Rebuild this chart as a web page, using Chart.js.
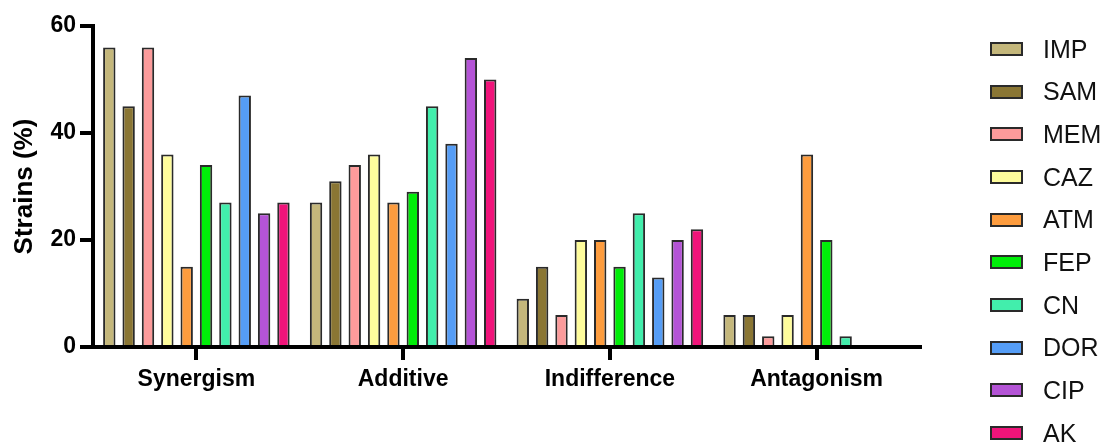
<!DOCTYPE html>
<html>
<head>
<meta charset="utf-8">
<script src="https://cdn.jsdelivr.net/npm/chart.js@4"></script>
<style>
    html, body { margin: 0; padding: 0; background: #fff; }
    #wrap { position: relative; width: 1110px; height: 444px; }
    #grafica { position: absolute; left: 0; top: 0; }
    .leyenda-item { position: absolute; left: 990px; height: 28px; display: flex; align-items: center;
        font-family: "Liberation Sans", Arial, sans-serif; font-size: 25px; color: #111; }
    .leyenda-caja { width: 29px; height: 10px; border: 2px solid #2a2a2a; margin-right: 20px; }
</style>
</head>
<body>
<div id="wrap">
    <canvas id="grafica" width="1110" height="444"></canvas>
    <div id="leyenda"></div>
</div>
<script>
const categorias = ["Synergism", "Additive", "Indifference", "Antagonism"];
const antibioticos = ["IMP", "SAM", "MEM", "CAZ", "ATM", "FEP", "CN", "DOR", "CIP", "AK"];
const colores = ["#c4b77b", "#8a7634", "#fc9b9b", "#fefc9c", "#fd9c3e", "#00ee08", "#42eeac", "#559df6", "#b454d6", "#f0147a"];

const IMP = [56, 27, 9, 6];
const SAM = [45, 31, 15, 6];
const MEM = [56, 34, 6, 2];
const CAZ = [36, 36, 20, 6];
const ATM = [15, 27, 20, 36];
const FEP = [34, 29, 15, 20];
const CN = [27, 45, 25, 2];
const DOR = [47, 38, 13, 0];
const CIP = [25, 54, 20, 0];
const AK = [27, 50, 22, 0];

const valores = [IMP, SAM, MEM, CAZ, ATM, FEP, CN, DOR, CIP, AK];
const ticksY = [0, 20, 40, 60];

const fuente = "'Liberation Sans', Arial, sans-serif";

document.addEventListener("DOMContentLoaded", function () {
    const datasets = antibioticos.map((nombre, i) => {
        return {
            label: nombre,
            data: valores[i],
            backgroundColor: colores[i],
            borderColor: "#2a2a2a",
            borderWidth: 2,
            barPercentage: 0.64,
            categoryPercentage: 0.936,
        };
    });

    new Chart(document.getElementById("grafica"), {
        type: "bar",
        data: {
            labels: categorias,
            datasets: datasets,
        },
        options: {
            responsive: false,
            animation: false,
            layout: {
                padding: { top: 26, right: 190, left: 0, bottom: 0 },
            },
            plugins: {
                legend: { display: false },
                tooltip: { enabled: false },
            },
            scales: {
                x: {
                    afterFit: (scale) => { scale.height = 97; },
                    grid: {
                        offset: false,
                        drawOnChartArea: false,
                        tickLength: 13,
                        lineWidth: 4,
                        color: "#000",
                    },
                    border: { width: 4, color: "#000" },
                    ticks: {
                        padding: 6,
                        color: "#000",
                        font: { family: fuente, size: 23, weight: "bold" },
                    },
                },
                y: {
                    min: 0,
                    max: 60,
                    afterFit: (scale) => { scale.width = 93; },
                    afterBuildTicks: (scale) => {
                        scale.ticks = ticksY.map((v) => ({ value: v }));
                    },
                    grid: {
                        drawOnChartArea: false,
                        tickLength: 13,
                        lineWidth: 4,
                        color: "#000",
                    },
                    border: { width: 4, color: "#000" },
                    ticks: {
                        padding: 4,
                        color: "#000",
                        font: { family: fuente, size: 23, weight: "bold" },
                    },
                    title: {
                        display: true,
                        text: "Strains (%)",
                        color: "#000",
                        padding: { top: 9, bottom: 0 },
                        font: { family: fuente, size: 26, weight: "bold" },
                    },
                },
            },
        },
    });

    // leyenda a la derecha
    const leyenda = document.getElementById("leyenda");
    antibioticos.forEach((nombre, i) => {
        const item = document.createElement("div");
        item.className = "leyenda-item";
        item.style.top = (35 + i * 42.67) + "px";
        const caja = document.createElement("span");
        caja.className = "leyenda-caja";
        caja.style.background = colores[i];
        const texto = document.createElement("span");
        texto.innerText = nombre;
        item.appendChild(caja);
        item.appendChild(texto);
        leyenda.appendChild(item);
    });
});
</script>
</body>
</html>
